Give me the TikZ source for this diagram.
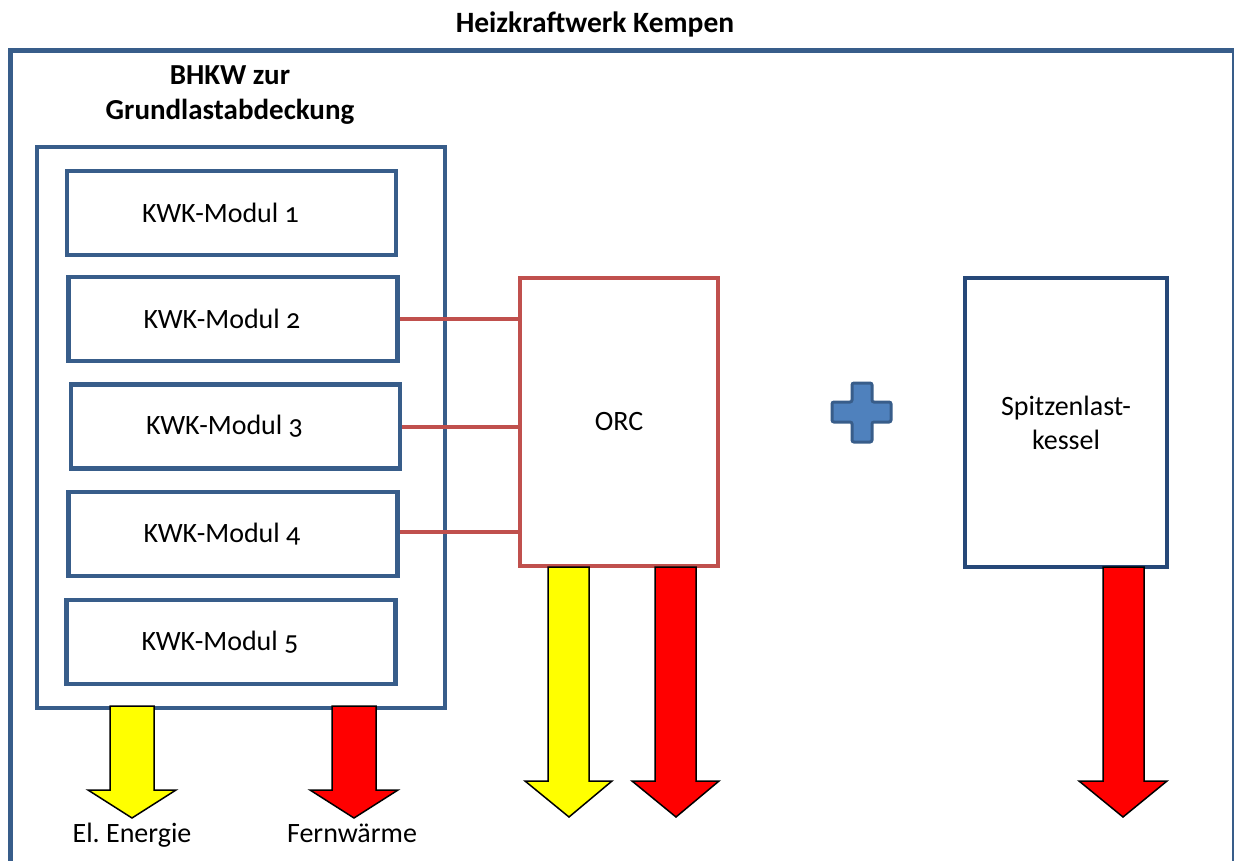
\documentclass[tikz,border=0pt]{standalone}
\usepackage{fontspec}
\setmainfont{Carlito}[Numbers=OldStyle]
\usepackage{tikz}
\usepackage{xcolor}

\definecolor{frameblue}{RGB}{56,93,138}
\definecolor{boilerblue}{RGB}{38,72,120}
\definecolor{orcred}{RGB}{192,80,77}
\definecolor{plusfill}{RGB}{79,129,189}
\definecolor{powergelb}{RGB}{255,255,0}

\tikzset{
  modul/.style={draw=frameblue, line width=4.5pt, minimum width=329pt, minimum height=84pt, inner sep=0pt,
    execute at end node={\hspace*{22pt}}},
  hotarrow/.style={draw=black, line width=1.5pt, fill=red},
  powerarrow/.style={draw=black, line width=1.5pt, fill=powergelb},
  pipe/.style={draw=orcred, line width=4pt}
}

\begin{document}
\begin{tikzpicture}[x=1pt,y=-1pt,every node/.style={font=\fontsize{28}{34}\selectfont}]
\useasboundingbox (0,0) rectangle (1234,860);
% Rahmen Heizkraftwerk
\draw[frameblue, line width=5pt] (10,880) -- (10,50) -- (1234,50) -- (1234,880);
\node[font=\fontsize{29.5}{35}\selectfont\bfseries] (titel) at (595,24) {Heizkraftwerk Kempen};
% BHKW
\node[font=\fontsize{29}{35}\selectfont\bfseries, align=center] (bhkwtitel) at (230,95) {BHKW zur\\Grundlastabdeckung};
\draw[frameblue, line width=4.5pt] (37,147) rectangle (445,708);
\node[modul] (m1) at (231.5,213) {KWK-Modul 1};
\node[modul] (m2) at (233,319) {KWK-Modul 2};
\node[modul] (m3) at (235.5,426.5) {KWK-Modul 3};
\node[modul] (m4) at (233,534) {KWK-Modul 4};
\node[modul] (m5) at (231,642) {KWK-Modul 5};
% ORC
\node[draw=orcred, line width=4.5pt, minimum width=198pt, minimum height=288pt, inner sep=0pt] (orc) at (619,422) {ORC};
\draw[pipe] (m2.east) -- (orc.west |- m2.east);
\draw[pipe] (m3.east) -- ([xshift=4pt]orc.west |- m3.east);
\draw[pipe] (m4.east |- 0,532) -- (orc.west |- 0,532);
% Plus
\draw[draw=frameblue, fill=plusfill, line width=3pt, rounded corners=2pt]
  (852,383) -- (872,383) -- (872,402) -- (891,402) -- (891,422) -- (872,422)
  -- (872,442) -- (852,442) -- (852,422) -- (832,422) -- (832,402) -- (852,402) -- cycle;
% Spitzenlastkessel
\node[draw=boilerblue, line width=4.5pt, minimum width=202pt, minimum height=289pt, inner sep=0pt, align=center] (kessel) at (1066,422.5) {Spitzenlast-\\kessel};
% Pfeile BHKW
\draw[powerarrow] (110,706) -- (154,706) -- (154,790) -- (176,790) -- (132,818) -- (88,790) -- (110,790) -- cycle;
\draw[hotarrow] (332,706) -- (376,706) -- (376,790) -- (398,790) -- (354,818) -- (310,790) -- (332,790) -- cycle;
\node[anchor=base] (strom) at (132,842) {El.~Energie};
\node[anchor=base] (waerme) at (352,842) {Fernwärme};
% Pfeile ORC
\draw[powerarrow] (548,567) -- (589,567) -- (589,781) -- (612,781) -- (569,817) -- (525,781) -- (548,781) -- cycle;
\draw[hotarrow] (655,567) -- (696,567) -- (696,781) -- (719,781) -- (676,817) -- (632,781) -- (655,781) -- cycle;
% Pfeil Kessel
\draw[hotarrow] (1103,567) -- (1144,567) -- (1144,781) -- (1167,781) -- (1123,817) -- (1079,781) -- (1103,781) -- cycle;
\end{tikzpicture}
\end{document}
